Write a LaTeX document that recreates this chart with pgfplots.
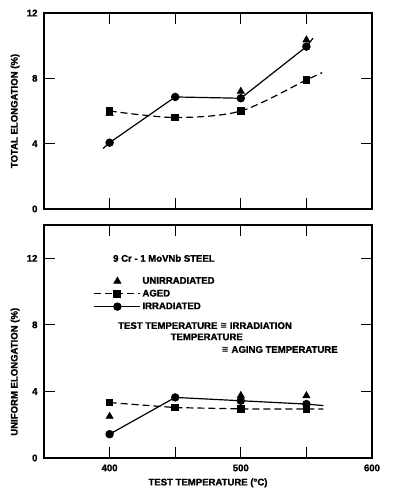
\documentclass[border=0pt]{standalone}
\usepackage{pgfplots}
\pgfplotsset{compat=1.18}
\usepackage{fontspec}
\setmainfont{Liberation Sans}[FakeBold=1.5]
\newfontfamily\sym{DejaVu Sans}
\newcommand{\cg}{{\sym\fontsize{8.6}{10}\selectfont ≅}}
\begin{document}
\begin{tikzpicture}[font=\fontsize{9.6}{11}\selectfont\bfseries]
\useasboundingbox (0,0) rectangle (394bp,499bp);
\pgfplotsset{
  common/.style={
    scale only axis, width=328bp,
    xmin=350, xmax=600, ymin=0,
    axis line style={line width=1.2pt},
    major tick length=11bp,
    every tick/.style={line width=0.9pt, black},
    ytick={0,4,8,12},
    yticklabel style={xshift=-3bp},
    xticklabel style={yshift=-3bp},
    every axis y label/.style={rotate=90, anchor=center},
    /pgf/number format/assume math mode=true,
    clip=false,
  },
  aged/.style={black, line width=1.2pt, dash pattern=on 7bp off 4bp, mark=square*, mark size=3.3bp, mark options={solid}},
  irr/.style={black, line width=1.2pt, mark=*, mark size=3.6bp},
  unirr/.style={black, only marks, mark=triangle*, mark size=4.3bp},
}
% ---------- top axis ----------
\begin{axis}[common,
  at={(44bp,290bp)}, anchor=south west, height=196bp,
  ymax=12,
  xtick={400,450,500,550}, xticklabels={},
  ylabel={TOTAL ELONGATION (\%)},
  ylabel style={at={(axis description cs:-0.088,0.5)}},
]
\addplot[unirr] coordinates {(400,5.85) (500,7.2) (550,10.35)};
\addplot[aged, smooth, tension=0.5, mark indices={1,2,3,4}] coordinates {(400,6.0) (450,5.6) (500,6.0) (550,7.9) (562,8.35)};
\addplot[irr, mark indices={2,3,4,5}] coordinates {(395,3.7) (400,4.06) (450,6.86) (500,6.78) (550,9.94) (555,10.45)};
\end{axis}
% ---------- bottom axis ----------
\begin{axis}[common,
  at={(44bp,41bp)}, anchor=south west, height=233bp,
  ymax=14,
  xtick={400,450,500,550,600}, xticklabels={400,,500,,600},
  xlabel={TEST TEMPERATURE (°C)},
  xlabel style={at={(axis description cs:0.5,-0.107)}, anchor=center},
  ylabel={UNIFORM ELONGATION (\%)},
  ylabel style={at={(axis description cs:-0.088,0.37)}},
  legend style={draw=none, fill=none, at={(axis cs:387.8,10.97)}, anchor=north west,
    inner sep=0pt, row sep=1.6bp, nodes={inner sep=1.5bp, anchor=west}},
  legend cell align=left,
  legend image code/.code={\draw[mark indices={2},#1] plot coordinates {(0bp,0bp) (23bp,0bp) (46bp,0bp)};},
]
\addplot[unirr] coordinates {(400,2.5) (500,3.75) (550,3.74)};
\addlegendentry{UNIRRADIATED}
\addplot[aged, mark indices={1,2,3,4}] coordinates {(400,3.33) (450,3.03) (500,2.95) (550,2.95) (563,2.95)};
\addlegendentry{AGED}
\addplot[irr, mark indices={1,2,3,4}] coordinates {(400,1.43) (450,3.64) (500,3.44) (550,3.24) (563,3.15)};
\addlegendentry{IRRADIATED}
\node[anchor=west, inner sep=0pt] at (axis cs:402.6,12) {9 Cr - 1 MoVNb STEEL};
\node[anchor=north west, inner sep=0pt, align=left, font=\fontsize{9.6}{11.3}\selectfont\bfseries]
  at (axis cs:406.4,8.17)
  {TEST TEMPERATURE \cg{} IRRADIATION\\
   \hspace*{52.5bp}TEMPERATURE\\[1.4bp]
   \hspace*{103.5bp}\cg{} AGING TEMPERATURE};
\end{axis}
\end{tikzpicture}
\end{document}
